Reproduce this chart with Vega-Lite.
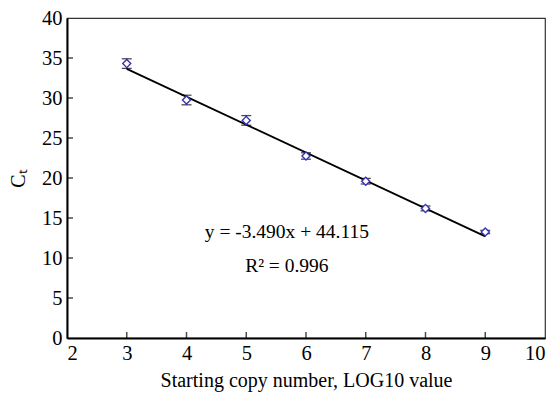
{
  "$schema": "https://vega.github.io/schema/vega-lite/v6.json",
  "width": 478,
  "height": 320,
  "autosize": "none",
  "padding": {"left": 67, "top": 18, "right": 10, "bottom": 55},
  "background": "white",
  "config": {
    "font": "Liberation Serif",
    "view": {"stroke": "#333", "strokeWidth": 1.2},
    "axis": {"grid": false, "domainColor": "black", "domainWidth": 2, "ticks": false, "labelPadding": 5, "labelOverlap": false, "labelFont": "Liberation Serif", "labelFontSize": 20.5, "labelColor": "black", "titleFont": "Liberation Serif", "titleFontSize": 20, "titleFontWeight": "normal", "titleColor": "black"}
  },
  "datasets": {
    "pts": [
      {"x": 3, "ct": 34.3, "lo": 33.7, "hi": 34.9},
      {"x": 4, "ct": 29.75, "lo": 29.15, "hi": 30.35},
      {"x": 5, "ct": 27.2, "lo": 26.6, "hi": 27.8},
      {"x": 6, "ct": 22.75, "lo": 22.35, "hi": 23.15},
      {"x": 7, "ct": 19.6, "lo": 19.25, "hi": 19.95},
      {"x": 8, "ct": 16.2, "lo": 15.9, "hi": 16.5},
      {"x": 9, "ct": 13.25, "lo": 13.05, "hi": 13.45}
    ],
    "fit": [
      {"x": 3, "ct": 33.645},
      {"x": 9, "ct": 12.705}
    ],
    "labels": [
      {"x": 5.68, "ct": 13.25, "t": "y = -3.490x + 44.115"},
      {"x": 5.68, "ct": 9.0, "t": "R² = 0.996"}
    ],
    "xticks": [{"v": 3}, {"v": 4}, {"v": 5}, {"v": 6}, {"v": 7}, {"v": 8}, {"v": 9}],
    "yticks": [{"v": 5}, {"v": 10}, {"v": 15}, {"v": 20}, {"v": 25}, {"v": 30}, {"v": 35}]
  },
  "layer": [
    {
      "data": {"name": "fit"},
      "mark": {"type": "line", "color": "black", "strokeWidth": 1.8},
      "encoding": {
        "x": {"field": "x", "type": "quantitative", "scale": {"domain": [2, 10], "nice": false}, "axis": {"values": [2,3,4,5,6,7,8,9,10], "format": "d", "title": "Starting copy number, LOG10 value", "titlePadding": 7}},
        "y": {"field": "ct", "type": "quantitative", "scale": {"domain": [0, 40], "nice": false}, "axis": {"values": [0,5,10,15,20,25,30,35,40], "format": "d", "title": "Cₜ", "titlePadding": 13}}
      }
    },
    {
      "data": {"name": "xticks"},
      "mark": {"type": "tick", "orient": "vertical", "color": "black", "size": 6, "thickness": 1.5, "yOffset": -3},
      "encoding": {
        "x": {"field": "v", "type": "quantitative", "axis": {"values": [2,3,4,5,6,7,8,9,10], "format": "d", "title": "Starting copy number, LOG10 value", "titlePadding": 7}},
        "y": {"datum": 0, "type": "quantitative", "axis": {"values": [0,5,10,15,20,25,30,35,40], "format": "d", "title": "Cₜ", "titlePadding": 13}}
      }
    },
    {
      "data": {"name": "yticks"},
      "mark": {"type": "tick", "orient": "horizontal", "color": "black", "size": 6, "thickness": 1.5, "xOffset": 3},
      "encoding": {
        "x": {"datum": 2, "type": "quantitative", "axis": {"values": [2,3,4,5,6,7,8,9,10], "format": "d", "title": "Starting copy number, LOG10 value", "titlePadding": 7}},
        "y": {"field": "v", "type": "quantitative", "axis": {"values": [0,5,10,15,20,25,30,35,40], "format": "d", "title": "Cₜ", "titlePadding": 13}}
      }
    },
    {
      "data": {"name": "pts"},
      "mark": {"type": "rule", "color": "black", "strokeWidth": 1.2},
      "encoding": {
        "x": {"field": "x", "type": "quantitative", "axis": {"values": [2,3,4,5,6,7,8,9,10], "format": "d", "title": "Starting copy number, LOG10 value", "titlePadding": 7}},
        "y": {"field": "lo", "type": "quantitative", "axis": {"values": [0,5,10,15,20,25,30,35,40], "format": "d", "title": "Cₜ", "titlePadding": 13}},
        "y2": {"field": "hi"}
      }
    },
    {
      "data": {"name": "pts"},
      "mark": {"type": "tick", "orient": "horizontal", "color": "black", "size": 10, "thickness": 1.3},
      "encoding": {
        "x": {"field": "x", "type": "quantitative", "axis": {"values": [2,3,4,5,6,7,8,9,10], "format": "d", "title": "Starting copy number, LOG10 value", "titlePadding": 7}},
        "y": {"field": "lo", "type": "quantitative", "axis": {"values": [0,5,10,15,20,25,30,35,40], "format": "d", "title": "Cₜ", "titlePadding": 13}}
      }
    },
    {
      "data": {"name": "pts"},
      "mark": {"type": "tick", "orient": "horizontal", "color": "black", "size": 10, "thickness": 1.3},
      "encoding": {
        "x": {"field": "x", "type": "quantitative", "axis": {"values": [2,3,4,5,6,7,8,9,10], "format": "d", "title": "Starting copy number, LOG10 value", "titlePadding": 7}},
        "y": {"field": "hi", "type": "quantitative", "axis": {"values": [0,5,10,15,20,25,30,35,40], "format": "d", "title": "Cₜ", "titlePadding": 13}}
      }
    },
    {
      "data": {"name": "pts"},
      "mark": {"type": "point", "shape": "diamond", "filled": true, "fill": "white", "stroke": "#3535b5", "strokeWidth": 1.4, "size": 65, "opacity": 1},
      "encoding": {
        "x": {"field": "x", "type": "quantitative", "axis": {"values": [2,3,4,5,6,7,8,9,10], "format": "d", "title": "Starting copy number, LOG10 value", "titlePadding": 7}},
        "y": {"field": "ct", "type": "quantitative", "axis": {"values": [0,5,10,15,20,25,30,35,40], "format": "d", "title": "Cₜ", "titlePadding": 13}}
      }
    },
    {
      "data": {"name": "labels"},
      "mark": {"type": "text", "font": "Liberation Serif", "fontSize": 19.5, "color": "black", "align": "center", "baseline": "middle"},
      "encoding": {
        "x": {"field": "x", "type": "quantitative", "axis": {"values": [2,3,4,5,6,7,8,9,10], "format": "d", "title": "Starting copy number, LOG10 value", "titlePadding": 7}},
        "y": {"field": "ct", "type": "quantitative", "axis": {"values": [0,5,10,15,20,25,30,35,40], "format": "d", "title": "Cₜ", "titlePadding": 13}},
        "text": {"field": "t"}
      }
    }
  ]
}
